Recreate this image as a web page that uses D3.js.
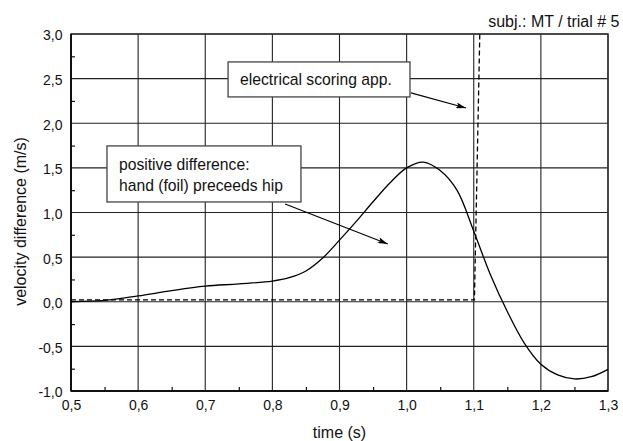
<!DOCTYPE html>
<html><head><meta charset="utf-8">
<script src="https://cdn.jsdelivr.net/npm/d3@7"></script>
<style>body{margin:0;background:#fff}svg{display:block}text{font-family:"Liberation Sans",Arial,sans-serif;fill:#111}</style>
</head><body>
<svg id="c" width="623" height="441"></svg>
<script>
// velocity difference curve (time s, m/s)
const curveT = [0.50,0.55,0.60,0.65,0.70,0.75,0.80,0.825,0.85,0.875,0.90,0.925,0.95,0.975,1.00,1.025,1.05,1.075,1.10,1.125,1.15,1.175,1.20,1.225,1.25,1.275,1.30];
const curveV = [0.00,0.015,0.065,0.125,0.175,0.20,0.232,0.27,0.345,0.49,0.69,0.90,1.12,1.33,1.50,1.565,1.47,1.25,0.79,0.30,-0.11,-0.46,-0.70,-0.82,-0.865,-0.84,-0.757];
// electrical scoring signal (dashed)
const scoreT = [0.50,1.101,1.101,1.109];
const scoreV = [0.02,0.02,0.03,3.0];
const xTicks = [0.5,0.6,0.7,0.8,0.9,1.0,1.1,1.2,1.3];
const yTicks = [-1.0,-0.5,0.0,0.5,1.0,1.5,2.0,2.5,3.0];
const xMinor = [0.55,0.65,0.75,0.85,0.95,1.05,1.15,1.25];
const yMinor = [-0.75,-0.25,0.25,0.75,1.25,1.75,2.25,2.75];
const title = "subj.: MT / trial # 5";
const xLabel = "time (s)";
const yLabel = "velocity difference (m/s)";
const notes = [
  {lines:["electrical scoring app."], box:[0.734,2.687,1.005,2.295], from:[1.0065,2.34], to:[1.0885,2.171]},
  {lines:["positive difference:","hand (foil) preceeds hip"], box:[0.5536,1.746,0.8426,1.118], from:[0.819,1.096], to:[0.972,0.648]}
];

const W=623,H=441,m={l:71,r:15,t:34,b:50};
const svg=d3.select("#c");
const x=d3.scaleLinear().domain([0.5,1.3]).range([m.l,W-m.r]);
const y=d3.scaleLinear().domain([-1,3]).range([H-m.b,m.t]);
const fmt=d=>d3.format(".1f")(d).replace(".",",").replace("−","-");

// grid
const g=svg.append("g");
g.selectAll(".gx").data(xTicks).join("line").attr("x1",d=>x(d)).attr("x2",d=>x(d)).attr("y1",y(-1)).attr("y2",y(3)).attr("stroke","#222").attr("stroke-width",1.1);
g.selectAll(".gy").data(yTicks).join("line").attr("y1",d=>y(d)).attr("y2",d=>y(d)).attr("x1",x(0.5)).attr("x2",x(1.3)).attr("stroke","#222").attr("stroke-width",1.1);

// axes
const xa=svg.append("g").attr("transform",`translate(0,${y(-1)})`).call(d3.axisBottom(x).tickValues(xTicks).tickFormat(fmt).tickSize(0).tickPadding(9));
const ya=svg.append("g").attr("transform",`translate(${x(0.5)},0)`).call(d3.axisLeft(y).tickValues(yTicks).tickFormat(fmt).tickSize(0).tickPadding(8.5));
[xa,ya].forEach(a=>{a.select(".domain").remove();a.selectAll("text").style("font-size","14px").attr("fill","#111").style("font-family","Liberation Sans, Arial, sans-serif");});
ya.selectAll("text").attr("dy","0.42em");
svg.append("g").attr("transform",`translate(0,${y(-1)})`).call(d3.axisTop(x).tickValues(xMinor).tickSize(4).tickFormat("")).call(a=>a.select(".domain").remove()).selectAll("line").attr("stroke","#111").attr("stroke-width",1.2);
svg.append("g").attr("transform",`translate(${x(0.5)},0)`).call(d3.axisRight(y).tickValues(yMinor).tickSize(4).tickFormat("")).call(a=>a.select(".domain").remove()).selectAll("line").attr("stroke","#111").attr("stroke-width",1.2);

// frame
svg.append("rect").attr("x",x(0.5)).attr("y",y(3)).attr("width",x(1.3)-x(0.5)).attr("height",y(-1)-y(3)).attr("fill","none").attr("stroke","#333").attr("stroke-width",1.5);
svg.append("line").attr("x1",x(0.5)).attr("x2",x(1.3)).attr("y1",y(-1)).attr("y2",y(-1)).attr("stroke","#111").attr("stroke-width",2);
svg.append("line").attr("x1",x(0.5)).attr("x2",x(0.5)).attr("y1",y(3)).attr("y2",y(-1)).attr("stroke","#111").attr("stroke-width",2);

// data lines
const line=d3.line().x(d=>x(d[0])).y(d=>y(d[1]));
svg.append("path").datum(scoreT.map((t,i)=>[t,scoreV[i]])).attr("d",line).attr("fill","none").attr("stroke","#000").attr("stroke-width",1.3).attr("stroke-dasharray","5,3");
svg.append("path").datum(curveT.map((t,i)=>[t,curveV[i]])).attr("d",line.curve(d3.curveCatmullRom)).attr("fill","none").attr("stroke","#000").attr("stroke-width",1.3);

// annotations
svg.append("defs").append("marker").attr("id","ah").attr("viewBox","0 0 10 6").attr("refX",10).attr("refY",3).attr("markerWidth",13).attr("markerHeight",6).attr("markerUnits","userSpaceOnUse").attr("orient","auto")
  .append("path").attr("d","M0,0 L10,3 L0,6 L2,3 Z").attr("fill","#000");
notes.forEach(n=>{
  const [t0,v0,t1,v1]=n.box;
  svg.append("rect").attr("x",x(t0)).attr("y",y(v0)).attr("width",x(t1)-x(t0)).attr("height",y(v1)-y(v0)).attr("fill","#fff").attr("stroke","#444").attr("stroke-width",1.3);
  const top=y(v0), h=y(v1)-y(v0), mid=top+h/2;
  n.lines.forEach((s,i)=>{
    const by = n.lines.length===1 ? mid+5.5 : mid-4+i*20.7;
    svg.append("text").attr("x",x(t0)+12).attr("y",by).style("font-size","15.7px").text(s);
  });
  svg.append("line").attr("x1",x(n.from[0])).attr("y1",y(n.from[1])).attr("x2",x(n.to[0])).attr("y2",y(n.to[1])).attr("stroke","#000").attr("stroke-width",1.1).attr("marker-end","url(#ah)");
});

// titles
svg.append("text").attr("x",619.5).attr("y",26.7).attr("text-anchor","end").style("font-size","16px").text(title);
svg.append("text").attr("x",(x(0.5)+x(1.3))/2).attr("y",438).attr("text-anchor","middle").style("font-size","16px").text(xLabel);
svg.append("text").attr("transform",`translate(26,221.5) rotate(-90)`).attr("text-anchor","middle").style("font-size","16px").text(yLabel);
</script>
</body></html>
